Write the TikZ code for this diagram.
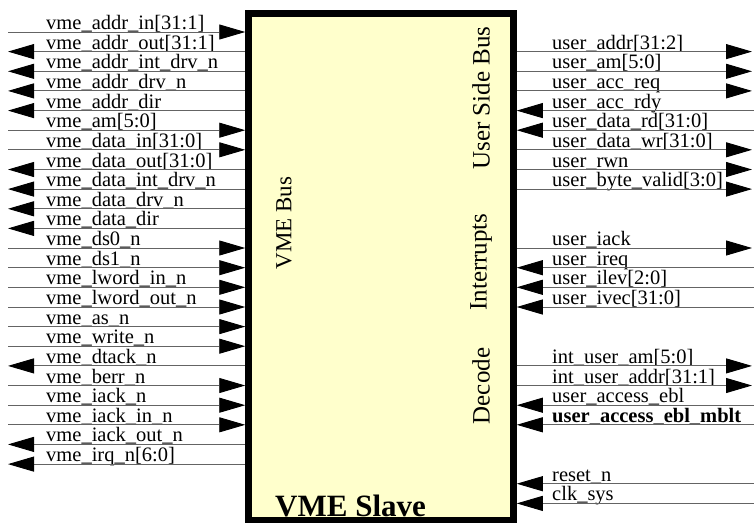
\documentclass[tikz,border=0pt]{standalone}
\usepackage{fontspec}
\setmainfont{Liberation Serif}
\usetikzlibrary{arrows.meta}
\definecolor{slavefill}{RGB}{255,255,204}
\definecolor{wiregray}{RGB}{100,100,100}

\begin{document}
\begin{tikzpicture}[x=1pt, y=-1pt, >={Triangle[length=26pt, width=15pt, color=black]}]
\tikzstyle{blk} = [draw=black, line width=6.5pt, fill=slavefill, inner sep=0pt, minimum width=265pt, minimum height=506.5pt]
\tikzstyle{wire} = [draw=wiregray, line width=0.9pt]
\tikzstyle{sig} = [anchor=base west, inner sep=0pt, yshift=2.5pt, font=\fontsize{20.5}{21}\selectfont]
\tikzstyle{partlbl} = [rotate=90, inner sep=0pt, font=\fontsize{25}{25}\selectfont]

\useasboundingbox (0,0) rectangle (754,523);

% the block
\node[blk] (slave) at (381,266.75) {};
\node[partlbl, font=\fontsize{23}{23}\selectfont] (vmebus) at (284,223) {VME Bus};
\node[partlbl] (userbus) at (481,98) {User Side Bus};
\node[partlbl] (irq) at (481,262) {Interrupts};
\node[partlbl] (decode) at (481,386) {Decode};
\node[anchor=base west, inner sep=0pt, font=\bfseries\fontsize{31}{31}\selectfont] (title) at (275,516) {VME Slave};

% VME side
\coordinate (addrin) at (8,32.0);      \node[sig] (t1) at (46,32.0) {vme\_addr\_in[31:1]};
\coordinate (addrout) at (8,51.6);     \node[sig] (t2) at (46,51.6) {vme\_addr\_out[31:1]};
\coordinate (addrint) at (8,71.3);     \node[sig] (t3) at (46,71.3) {vme\_addr\_int\_drv\_n};
\coordinate (addrdrv) at (8,90.9);     \node[sig] (t4) at (46,90.9) {vme\_addr\_drv\_n};
\coordinate (addrdir) at (8,110.6);    \node[sig] (t5) at (46,110.6) {vme\_addr\_dir};
\coordinate (am) at (8,130.2);         \node[sig] (t6) at (46,130.2) {vme\_am[5:0]};
\coordinate (datain) at (8,149.8);     \node[sig] (t7) at (46,149.8) {vme\_data\_in[31:0]};
\coordinate (dataout) at (8,169.5);    \node[sig] (t8) at (46,169.5) {vme\_data\_out[31:0]};
\coordinate (dataint) at (8,189.1);    \node[sig] (t9) at (46,189.1) {vme\_data\_int\_drv\_n};
\coordinate (datadrv) at (8,208.8);    \node[sig] (t10) at (46,208.8) {vme\_data\_drv\_n};
\coordinate (datadir) at (8,228.4);    \node[sig] (t11) at (46,228.4) {vme\_data\_dir};
\coordinate (ds0) at (8,248.0);        \node[sig] (t12) at (46,248.0) {vme\_ds0\_n};
\coordinate (ds1) at (8,267.7);        \node[sig] (t13) at (46,267.7) {vme\_ds1\_n};
\coordinate (lwin) at (8,287.3);       \node[sig] (t14) at (46,287.3) {vme\_lword\_in\_n};
\coordinate (lwout) at (8,307.0);      \node[sig] (t15) at (46,307.0) {vme\_lword\_out\_n};
\coordinate (as) at (8,326.6);         \node[sig] (t16) at (46,326.6) {vme\_as\_n};
\coordinate (write) at (8,346.2);      \node[sig] (t17) at (46,346.2) {vme\_write\_n};
\coordinate (dtack) at (8,365.9);      \node[sig] (t18) at (46,365.9) {vme\_dtack\_n};
\coordinate (berr) at (8,385.5);       \node[sig] (t19) at (46,385.5) {vme\_berr\_n};
\coordinate (iack) at (8,405.2);       \node[sig] (t20) at (46,405.2) {vme\_iack\_n};
\coordinate (iackin) at (8,424.8);     \node[sig] (t21) at (46,424.8) {vme\_iack\_in\_n};
\coordinate (iackout) at (8,444.4);    \node[sig] (t22) at (46,444.4) {vme\_iack\_out\_n};
\coordinate (irqn) at (8,464.1);       \node[sig] (t23) at (46,464.1) {vme\_irq\_n[6:0]};

\draw[wire, ->] (addrin) -- (addrin -| slave.west);
\draw[wire, <-] (addrout) -- (addrout -| slave.west);
\draw[wire, <-] (addrint) -- (addrint -| slave.west);
\draw[wire, <-] (addrdrv) -- (addrdrv -| slave.west);
\draw[wire, <-] (addrdir) -- (addrdir -| slave.west);
\draw[wire, ->] (am) -- (am -| slave.west);
\draw[wire, ->] (datain) -- (datain -| slave.west);
\draw[wire, <-] (dataout) -- (dataout -| slave.west);
\draw[wire, <-] (dataint) -- (dataint -| slave.west);
\draw[wire, <-] (datadrv) -- (datadrv -| slave.west);
\draw[wire, <-] (datadir) -- (datadir -| slave.west);
\draw[wire, ->] (ds0) -- (ds0 -| slave.west);
\draw[wire, ->] (ds1) -- (ds1 -| slave.west);
\draw[wire, ->] (lwin) -- (lwin -| slave.west);
\draw[wire, ->] (lwout) -- (lwout -| slave.west);
\draw[wire, ->] (as) -- (as -| slave.west);
\draw[wire, ->] (write) -- (write -| slave.west);
\draw[wire, <-] (dtack) -- (dtack -| slave.west);
\draw[wire, ->] (berr) -- (berr -| slave.west);
\draw[wire, ->] (iack) -- (iack -| slave.west);
\draw[wire, ->] (iackin) -- (iackin -| slave.west);
\draw[wire, <-] (iackout) -- (iackout -| slave.west);
\draw[wire, <-] (irqn) -- (irqn -| slave.west);

% user side
\coordinate (uaddr) at (752,51.6);     \node[sig] (u1) at (552,51.6) {user\_addr[31:2]};
\coordinate (uam) at (752,71.3);       \node[sig] (u2) at (552,71.3) {user\_am[5:0]};
\coordinate (ureq) at (752,90.9);      \node[sig] (u3) at (552,90.9) {user\_acc\_req};
\coordinate (urdy) at (754,110.6);     \node[sig] (u4) at (552,110.6) {user\_acc\_rdy};
\coordinate (urd) at (754,130.2);      \node[sig] (u5) at (552,130.2) {user\_data\_rd[31:0]};
\coordinate (uwr) at (752,149.8);      \node[sig] (u6) at (552,149.8) {user\_data\_wr[31:0]};
\coordinate (urwn) at (752,169.5);     \node[sig] (u7) at (552,169.5) {user\_rwn};
\coordinate (ubyte) at (752,189.1);    \node[sig] (u8) at (552,189.1) {user\_byte\_valid[3:0]};
\coordinate (uiack) at (752,248.0);    \node[sig] (u9) at (552,248.0) {user\_iack};
\coordinate (uireq) at (754,267.7);    \node[sig] (u10) at (552,267.7) {user\_ireq};
\coordinate (uilev) at (754,287.3);    \node[sig] (u11) at (552,287.3) {user\_ilev[2:0]};
\coordinate (uivec) at (754,307.0);    \node[sig] (u12) at (552,307.0) {user\_ivec[31:0]};
\coordinate (iam) at (752,365.9);      \node[sig] (u13) at (552,365.9) {int\_user\_am[5:0]};
\coordinate (iaddr) at (752,385.5);    \node[sig] (u14) at (552,385.5) {int\_user\_addr[31:1]};
\coordinate (ebl) at (754,405.2);      \node[sig] (u15) at (552,405.2) {user\_access\_ebl};
\coordinate (mblt) at (754,424.8);     \node[sig, font=\bfseries\fontsize{20.5}{21}\selectfont] (u16) at (552,424.8) {user\_access\_ebl\_mblt};
\coordinate (rst) at (754,483.7);      \node[sig] (u17) at (552,483.7) {reset\_n};
\coordinate (clk) at (754,503.4);      \node[sig] (u18) at (552,503.4) {clk\_sys};

\draw[wire, ->] (uaddr -| slave.east) -- (uaddr);
\draw[wire, ->] (uam -| slave.east) -- (uam);
\draw[wire, ->] (ureq -| slave.east) -- (ureq);
\draw[wire, <-] (urdy -| slave.east) -- (urdy);
\draw[wire, <-] (urd -| slave.east) -- (urd);
\draw[wire, ->] (uwr -| slave.east) -- (uwr);
\draw[wire, ->] (urwn -| slave.east) -- (urwn);
\draw[wire, ->] (ubyte -| slave.east) -- (ubyte);
\draw[wire, ->] (uiack -| slave.east) -- (uiack);
\draw[wire, <-] (uireq -| slave.east) -- (uireq);
\draw[wire, <-] (uilev -| slave.east) -- (uilev);
\draw[wire, <-] (uivec -| slave.east) -- (uivec);
\draw[wire, ->] (iam -| slave.east) -- (iam);
\draw[wire, ->] (iaddr -| slave.east) -- (iaddr);
\draw[wire, <-] (ebl -| slave.east) -- (ebl);
\draw[wire, <-] (mblt -| slave.east) -- (mblt);
\draw[wire, <-] (rst -| slave.east) -- (rst);
\draw[wire, <-] (clk -| slave.east) -- (clk);
\end{tikzpicture}
\end{document}
